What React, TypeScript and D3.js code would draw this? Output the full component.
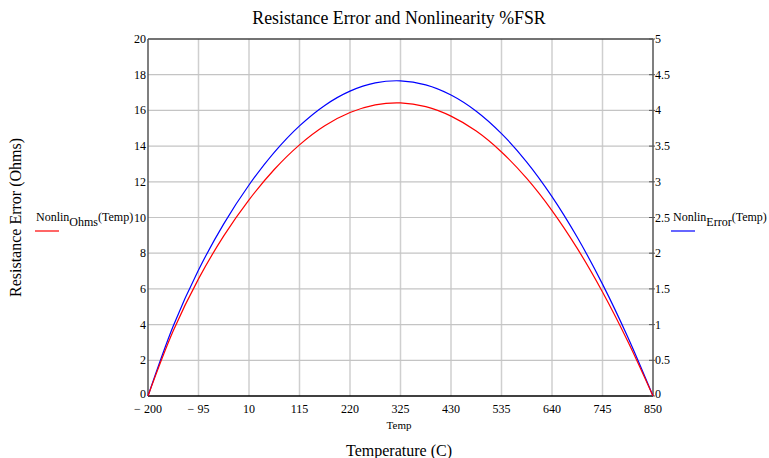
import React from "react";
import * as d3 from "d3";

const temps = [-200, -147.5, -95, -42.5, 10, 62.5, 115, 167.5, 220, 272.5, 325, 377.5, 430, 482.5, 535, 587.5, 640, 692.5, 745, 797.5, 850];
const nonlinOhms = [0, 3.65, 6.56, 8.97, 10.99, 12.69, 14.07, 15.14, 15.88, 16.31, 16.42, 16.21, 15.68, 14.84, 13.67, 12.19, 10.39, 8.27, 5.83, 3.07, 0];
const nonlinError = [0, 0.981, 1.764, 2.411, 2.955, 3.412, 3.783, 4.07, 4.27, 4.385, 4.414, 4.358, 4.216, 3.989, 3.675, 3.277, 2.793, 2.223, 1.567, 0.826, 0];
const xTicks = [-200, -95, 10, 115, 220, 325, 430, 535, 640, 745, 850];
const yLeftTicks = [0, 2, 4, 6, 8, 10, 12, 14, 16, 18, 20];
const yRightTicks = [0, 0.5, 1, 1.5, 2, 2.5, 3, 3.5, 4, 4.5, 5];

const W = 769, H = 458;
const L = 148, R = 653, T = 39, B = 396;
const font = "'Liberation Serif', 'Times New Roman', serif";

export default function App() {
  const x = d3.scaleLinear().domain([-200, 850]).range([L, R]);
  const yL = d3.scaleLinear().domain([0, 20]).range([B, T]);
  const yR = d3.scaleLinear().domain([0, 5]).range([B, T]);
  const lineOhms = d3.line<number>().x((_, i) => x(temps[i])).y(d => yL(d)).curve(d3.curveCatmullRom);
  const lineErr = d3.line<number>().x((_, i) => x(temps[i])).y(d => yR(d)).curve(d3.curveCatmullRom);
  const fmtX = (v: number) => (v < 0 ? "\u2212 " + Math.abs(v) : String(v));
  return (
    <svg width={W} height={H} style={{ position: "absolute", left: 0, top: 0, background: "#fff" }} fontFamily={font}>
      <rect x={0} y={0} width={W} height={H} fill="#fff" />
      {xTicks.slice(1, -1).map(t => (
        <line key={"gx" + t} x1={x(t)} x2={x(t)} y1={T} y2={B} stroke="#cfcfcf" strokeWidth={1.5} />
      ))}
      {yLeftTicks.slice(1, -1).map(t => (
        <line key={"gy" + t} x1={L} x2={R} y1={yL(t)} y2={yL(t)} stroke="#c4c4c4" strokeWidth={1.2} />
      ))}
      <line x1={L} x2={R} y1={T} y2={T} stroke="#444" strokeWidth={1.5} />
      <line x1={L} x2={L} y1={T} y2={B} stroke="#555" strokeWidth={1.5} />
      <line x1={R} x2={R} y1={T} y2={B} stroke="#555" strokeWidth={1.5} />
      <line x1={L} x2={R} y1={B} y2={B} stroke="#000" strokeWidth={1.5} />
      {yRightTicks.map(t => (
        <line key={"rt" + t} x1={R - 4} x2={R + 2} y1={yR(t)} y2={yR(t)} stroke="#555" strokeWidth={1} />
      ))}
      <path d={lineErr(nonlinError) || ""} fill="none" stroke="#0000ff" strokeWidth={1.2} />
      <path d={lineOhms(nonlinOhms) || ""} fill="none" stroke="#ff0000" strokeWidth={1.2} />
      {xTicks.map(t => (
        <text key={"xl" + t} x={x(t)} y={B + 17} fontSize={12} textAnchor="middle" fill="#000">{fmtX(t)}</text>
      ))}
      {yLeftTicks.map(t => (
        <text key={"yl" + t} x={L - 2} y={yL(t) + (t === 0 ? 2 : 4)} fontSize={12} textAnchor="end" fill="#000">{t}</text>
      ))}
      {yRightTicks.map(t => (
        <text key={"yr" + t} x={R + 2} y={yR(t) + (t === 0 ? 2 : 4)} fontSize={12} textAnchor="start" fill="#000">{t}</text>
      ))}
      <text x={399} y={24} fontSize={17.8} textAnchor="middle" fill="#000">Resistance Error and Nonlinearity %FSR</text>
      <text x={399} y={429} fontSize={11} textAnchor="middle" fill="#000">Temp</text>
      <text x={399} y={456} fontSize={16} textAnchor="middle" fill="#000">Temperature (C)</text>
      <text transform={`translate(21, ${(T + B) / 2}) rotate(-90)`} fontSize={16} textAnchor="middle" fill="#000">Resistance Error (Ohms)</text>
      <text x={36} y={221} fontSize={12} fill="#000">
        <tspan>Nonlin</tspan>
        <tspan dy={5}>Ohms</tspan>
        <tspan dy={-5}>(Temp)</tspan>
      </text>
      <line x1={35} x2={59} y1={231} y2={231} stroke="#ff0000" strokeWidth={1.2} />
      <text x={673} y={221} fontSize={12} fill="#000">
        <tspan>Nonlin</tspan>
        <tspan dy={5}>Error</tspan>
        <tspan dy={-5}>(Temp)</tspan>
      </text>
      <line x1={671} x2={695} y1={231} y2={231} stroke="#0000ff" strokeWidth={1.2} />
    </svg>
  );
}
